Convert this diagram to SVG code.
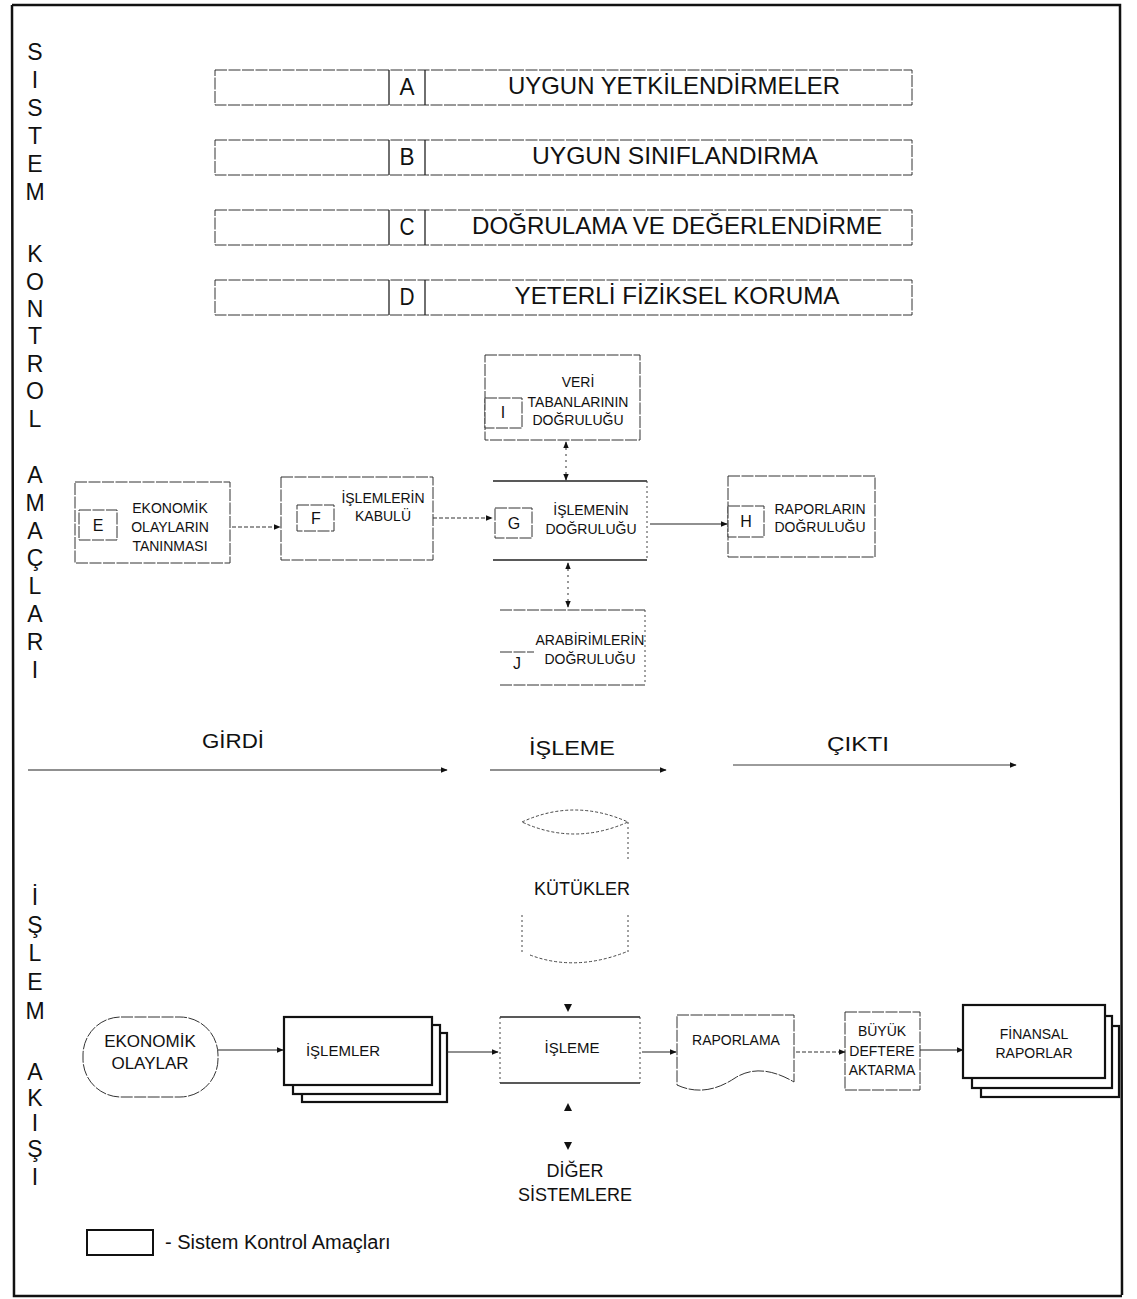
<svg xmlns="http://www.w3.org/2000/svg" width="1137" height="1299" viewBox="0 0 1137 1299">
  <style>
    text { font-family: "Liberation Sans", Arial, sans-serif; fill: #111; }
    .frame { fill: none; stroke: #111; stroke-width: 2.5; }
    .vert { font-size: 23px; text-anchor: middle; }
    .obj { fill: #fff; stroke: #333; stroke-width: 1; stroke-dasharray: 12 1.5; }
    .dot { fill: none; stroke: #444; stroke-width: 1; stroke-dasharray: 2 3; }
    .solidline { stroke: #222; stroke-width: 1.3; fill: none; }
    .big { font-size: 24px; text-anchor: middle; }
    .lbl { font-size: 14px; text-anchor: middle; }
    .key { font-size: 17px; text-anchor: middle; }
    .flow { font-size: 21px; text-anchor: middle; }
    .doc { fill: #fff; stroke: #111; stroke-width: 2.2; }
    .conn { stroke: #222; stroke-width: 1.2; fill: none; }
    .connd { stroke: #333; stroke-width: 1.1; fill: none; stroke-dasharray: 4 2; }
    .connv { stroke: #444; stroke-width: 1.1; fill: none; stroke-dasharray: 2 4; }
  </style>
  <defs>
    <marker id="ah" viewBox="0 0 10 10" refX="9" refY="5" markerWidth="7" markerHeight="7" markerUnits="userSpaceOnUse" orient="auto-start-reverse">
      <path d="M0,1 L10,5 L0,9 z" fill="#111"/>
    </marker>
  </defs>

  <!-- outer frame -->
  <path class="frame" d="M12,5 L1120,5 L1122,1295 M12,5 L14,1296 L1122,1296"/>

  <!-- vertical side titles -->
  <g id="side-title-top" class="vert">
    <text x="35" y="60">S</text><text x="35" y="88">I</text><text x="35" y="116">S</text>
    <text x="35" y="144">T</text><text x="35" y="172">E</text><text x="35" y="200">M</text>
    <text x="35" y="262">K</text><text x="35" y="290">O</text><text x="35" y="317">N</text>
    <text x="35" y="344">T</text><text x="35" y="372">R</text><text x="35" y="399">O</text>
    <text x="35" y="427">L</text>
    <text x="35" y="483">A</text><text x="35" y="511">M</text><text x="35" y="539">A</text>
    <text x="35" y="566">Ç</text><text x="35" y="594">L</text><text x="35" y="622">A</text>
    <text x="35" y="650">R</text><text x="35" y="678">I</text>
  </g>
  <g id="side-title-bottom" class="vert">
    <text x="35" y="905">İ</text><text x="35" y="933">Ş</text><text x="35" y="961">L</text>
    <text x="35" y="990">E</text><text x="35" y="1019">M</text>
    <text x="35" y="1080">A</text><text x="35" y="1106">K</text><text x="35" y="1131">I</text>
    <text x="35" y="1157">Ş</text><text x="35" y="1185">I</text>
  </g>

  <!-- control objective bars A-D -->
  <g id="obj-A">
    <rect class="obj" x="215" y="70" width="697" height="35"/>
    <line class="solidline" x1="389" y1="70" x2="389" y2="105"/>
    <line class="solidline" x1="425" y1="70" x2="425" y2="105"/>
    <text class="big" x="407" y="95" textLength="15" lengthAdjust="spacingAndGlyphs">A</text>
    <text class="big" x="674" y="94" textLength="332" lengthAdjust="spacingAndGlyphs">UYGUN YETKİLENDİRMELER</text>
  </g>
  <g id="obj-B">
    <rect class="obj" x="215" y="140" width="697" height="35"/>
    <line class="solidline" x1="389" y1="140" x2="389" y2="175"/>
    <line class="solidline" x1="425" y1="140" x2="425" y2="175"/>
    <text class="big" x="407" y="165" textLength="15" lengthAdjust="spacingAndGlyphs">B</text>
    <text class="big" x="675" y="164" textLength="286" lengthAdjust="spacingAndGlyphs">UYGUN  SINIFLANDIRMA</text>
  </g>
  <g id="obj-C">
    <rect class="obj" x="215" y="210" width="697" height="35"/>
    <line class="solidline" x1="389" y1="210" x2="389" y2="245"/>
    <line class="solidline" x1="425" y1="210" x2="425" y2="245"/>
    <text class="big" x="407" y="235" textLength="15" lengthAdjust="spacingAndGlyphs">C</text>
    <text class="big" x="677" y="234" textLength="410" lengthAdjust="spacingAndGlyphs">DOĞRULAMA VE DEĞERLENDİRME</text>
  </g>
  <g id="obj-D">
    <rect class="obj" x="215" y="280" width="697" height="35"/>
    <line class="solidline" x1="389" y1="280" x2="389" y2="315"/>
    <line class="solidline" x1="425" y1="280" x2="425" y2="315"/>
    <text class="big" x="407" y="305" textLength="15" lengthAdjust="spacingAndGlyphs">D</text>
    <text class="big" x="677" y="304" textLength="325" lengthAdjust="spacingAndGlyphs">YETERLİ FİZİKSEL KORUMA</text>
  </g>

  <!-- control objectives E-J -->
  <g id="obj-E">
    <rect class="obj" x="75" y="482" width="155" height="81"/>
    <rect class="obj" x="79" y="510" width="38" height="30"/>
    <text class="key" x="98" y="531" style="font-size:16px">E</text>
    <text class="lbl" x="170" y="513">EKONOMİK</text>
    <text class="lbl" x="170" y="532">OLAYLARIN</text>
    <text class="lbl" x="170" y="551">TANINMASI</text>
  </g>
  <g id="obj-F">
    <rect class="obj" x="281" y="477" width="152" height="83"/>
    <rect class="obj" x="297" y="505" width="37" height="26"/>
    <text class="key" x="316" y="524" style="font-size:16px">F</text>
    <text class="lbl" x="383" y="503">İŞLEMLERİN</text>
    <text class="lbl" x="383" y="521">KABULÜ</text>
  </g>
  <g id="obj-G">
    <line class="solidline" x1="493" y1="481" x2="647" y2="481"/>
    <line class="solidline" x1="493" y1="560" x2="647" y2="560"/>
    <line class="dot" x1="647" y1="481" x2="647" y2="560"/>
    <rect class="obj" x="495" y="508" width="37" height="30"/>
    <text class="key" x="514" y="529" style="font-size:16px">G</text>
    <text class="lbl" x="591" y="515">İŞLEMENİN</text>
    <text class="lbl" x="591" y="534">DOĞRULUĞU</text>
  </g>
  <g id="obj-H">
    <rect class="obj" x="728" y="476" width="147" height="81"/>
    <rect class="obj" x="728" y="506" width="36" height="31"/>
    <text class="key" x="746" y="527" style="font-size:16px">H</text>
    <text class="lbl" x="820" y="514">RAPORLARIN</text>
    <text class="lbl" x="820" y="532">DOĞRULUĞU</text>
  </g>
  <g id="obj-I">
    <rect class="obj" x="485" y="355" width="155" height="85"/>
    <rect class="obj" x="485" y="398" width="37" height="30"/>
    <text class="key" x="503" y="418" style="font-size:16px">I</text>
    <text class="lbl" x="578" y="387">VERİ</text>
    <text class="lbl" x="578" y="407">TABANLARININ</text>
    <text class="lbl" x="578" y="425">DOĞRULUĞU</text>
  </g>
  <g id="obj-J">
    <line class="obj" x1="500" y1="610" x2="645" y2="610"/>
    <line class="dot" x1="645" y1="610" x2="645" y2="685"/>
    <line class="obj" x1="500" y1="685" x2="645" y2="685"/>
    <line class="obj" x1="500" y1="652" x2="534" y2="652"/>
    <text class="key" x="517" y="669" style="font-size:16px">J</text>
    <text class="lbl" x="590" y="645">ARABİRİMLERİN</text>
    <text class="lbl" x="590" y="664">DOĞRULUĞU</text>
  </g>

  <!-- stage headings -->
  <g id="stage-labels" class="flow">
    <text x="233" y="748" textLength="62" lengthAdjust="spacingAndGlyphs">GİRDİ</text>
    <text x="572" y="755" textLength="86" lengthAdjust="spacingAndGlyphs">İŞLEME</text>
    <text x="858" y="751" textLength="62" lengthAdjust="spacingAndGlyphs">ÇIKTI</text>
  </g>

  <!-- file store -->
  <g id="kutukler">
    <path class="dot" style="stroke-dasharray:3 2" d="M522,822 Q574,798 628,822 Q574,846 522,822 Z"/>
    <line class="dot" x1="628" y1="822" x2="628" y2="860"/>
    <line class="dot" x1="522" y1="915" x2="522" y2="955"/>
    <line class="dot" x1="628" y1="915" x2="628" y2="955"/>
    <path class="dot" style="stroke-dasharray:3 2" d="M530,955 Q575,972 626,952"/>
    <text class="key" x="582" y="895" style="font-size:18px">KÜTÜKLER</text>
  </g>

  <!-- transaction flow -->
  <g id="ekonomik-olaylar">
    <rect class="obj" x="83" y="1017" width="135" height="80" rx="38" ry="38"/>
    <text class="key" x="150" y="1047">EKONOMİK</text>
    <text class="key" x="150" y="1069">OLAYLAR</text>
  </g>
  <g id="islemler">
    <rect class="doc" x="302" y="1033" width="145" height="69"/>
    <rect class="doc" x="293" y="1025" width="147" height="69"/>
    <rect class="doc" x="284" y="1017" width="148" height="68"/>
    <text class="lbl" x="343" y="1056" style="font-size:15px">İŞLEMLER</text>
  </g>
  <g id="isleme">
    <line class="solidline" x1="500" y1="1017" x2="640" y2="1017"/>
    <line class="solidline" x1="500" y1="1083" x2="640" y2="1083"/>
    <line class="dot" x1="500" y1="1017" x2="500" y2="1083"/>
    <line class="dot" x1="640" y1="1017" x2="640" y2="1083"/>
    <text class="lbl" x="572" y="1053" style="font-size:15px">İŞLEME</text>
  </g>
  <g id="raporlama">
    <path class="obj" d="M677,1015 L794,1015 L794,1082 Q760,1062 735,1078 Q705,1098 677,1085 Z"/>
    <text class="lbl" x="736" y="1045">RAPORLAMA</text>
  </g>
  <g id="buyuk-deftere">
    <rect class="obj" x="845" y="1012" width="75" height="78"/>
    <text class="lbl" x="882" y="1036">BÜYÜK</text>
    <text class="lbl" x="882" y="1056">DEFTERE</text>
    <text class="lbl" x="882" y="1075">AKTARMA</text>
  </g>
  <g id="finansal-raporlar">
    <rect class="doc" x="981" y="1026" width="138" height="71"/>
    <rect class="doc" x="972" y="1016" width="140" height="72"/>
    <rect class="doc" x="963" y="1005" width="142" height="73"/>
    <text class="lbl" x="1034" y="1039">FİNANSAL</text>
    <text class="lbl" x="1034" y="1058">RAPORLAR</text>
  </g>
  <g id="diger-sistemlere">
    <text class="key" x="575" y="1177" style="font-size:18px">DİĞER</text>
    <text class="key" x="575" y="1201" style="font-size:18px">SİSTEMLERE</text>
  </g>

  <!-- connectors -->
  <g id="connectors">
    <line class="connd" x1="232" y1="527" x2="280" y2="527" marker-end="url(#ah)"/>
    <line class="connd" x1="433" y1="518" x2="492" y2="518" marker-end="url(#ah)"/>
    <line class="conn" x1="650" y1="524" x2="727" y2="524" marker-end="url(#ah)"/>
    <line class="connv" x1="566" y1="442" x2="566" y2="480" marker-start="url(#ah)" marker-end="url(#ah)"/>
    <line class="connv" x1="568" y1="563" x2="568" y2="607" marker-start="url(#ah)" marker-end="url(#ah)"/>

    <line class="conn" x1="28" y1="770" x2="447" y2="770" marker-end="url(#ah)"/>
    <line class="conn" x1="490" y1="770" x2="666" y2="770" marker-end="url(#ah)"/>
    <line class="conn" x1="733" y1="765" x2="1016" y2="765" marker-end="url(#ah)" style="stroke-width:0.9"/>

    <line class="conn" x1="218" y1="1050" x2="283" y2="1050" marker-end="url(#ah)"/>
    <line class="conn" x1="447" y1="1052" x2="498" y2="1052" marker-end="url(#ah)"/>
    <line class="conn" x1="642" y1="1052" x2="676" y2="1052" marker-end="url(#ah)"/>
    <line class="connd" x1="796" y1="1052" x2="845" y2="1052" marker-end="url(#ah)"/>
    <line class="conn" x1="920" y1="1050" x2="963" y2="1050" marker-end="url(#ah)"/>

    <!-- arrowheads to and from the file store and other systems -->
    <path d="M564,1004 L572,1004 L568,1012 Z" fill="#111"/>
    <path d="M564,1111 L572,1111 L568,1103 Z" fill="#111"/>
    <path d="M564,1142 L572,1142 L568,1150 Z" fill="#111"/>
  </g>

  <!-- legend -->
  <g id="legend">
    <rect x="87" y="1230" width="66" height="25" fill="#fff" stroke="#111" stroke-width="2"/>
    <text x="165" y="1249" style="font-size:20px">- Sistem Kontrol Amaçları</text>
  </g>
</svg>
